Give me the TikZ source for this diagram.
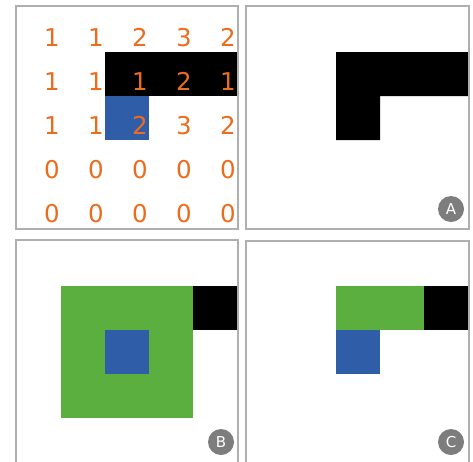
\documentclass[tikz,border=0pt]{standalone}
\usepackage{fontspec}
\setmainfont{DejaVu Sans}
\usepackage{xcolor}
\usepackage{tikz}
\definecolor{naranjanum}{RGB}{236,108,30}
\definecolor{azulcelda}{RGB}{47,93,168}
\definecolor{verdecelda}{RGB}{90,175,62}
\definecolor{grisborde}{RGB}{175,175,175}
\definecolor{grisinsignia}{RGB}{125,125,125}

\begin{document}
\begin{tikzpicture}[x=1pt, y=-1pt,
  num/.style={text=naranjanum, font=\fontsize{24.5}{24.5}\selectfont, inner sep=0pt, anchor=base east},
  insignia/.style={circle, fill=grisinsignia, text=white, minimum size=26pt, inner sep=0pt, font=\fontsize{15}{15}\selectfont},
  marco/.style={grisborde, line width=1.3pt}]
  \useasboundingbox (0,0) rectangle (473,461);
  % panel de valores
  \fill[black] (105,52) rectangle (237,96);
  \fill[azulcelda] (105,96) rectangle (149,140);
  \foreach \r/\vals in {0/{1,1,2,3,2}, 1/{1,1,1,2,1}, 2/{1,1,2,3,2}, 3/{0,0,0,0,0}, 4/{0,0,0,0,0}} { \foreach \v [count=\c from 0] in \vals { \node[num] (n-\r-\c) at ({17+44*\c+43}, {8+44*\r+38}) {\v}; } }
  \draw[marco] (16,6) rectangle (238,229);
  % panel A
  \fill[black] (336,52) -- (468,52) -- (468,96) -- (380,96) -- (380,140) -- (336,140) -- cycle;
  \draw[marco] (246,6) rectangle (469,229);
  \node[insignia] (insA) at (451,209) {A};
  % panel B
  \fill[verdecelda] (61,286) rectangle (193,418);
  \fill[azulcelda] (105,330) rectangle (149,374);
  \fill[black] (193,286) rectangle (237,330);
  \draw[marco] (16,240) rectangle (238,470);
  \node[insignia] (insB) at (221,442) {B};
  % panel C
  \fill[verdecelda] (336,286) rectangle (424,330);
  \fill[black] (424,286) rectangle (468,330);
  \fill[azulcelda] (336,330) rectangle (380,374);
  \draw[marco] (246,241) rectangle (469,470);
  \node[insignia] (insC) at (451,442) {C};
\end{tikzpicture}
\end{document}
